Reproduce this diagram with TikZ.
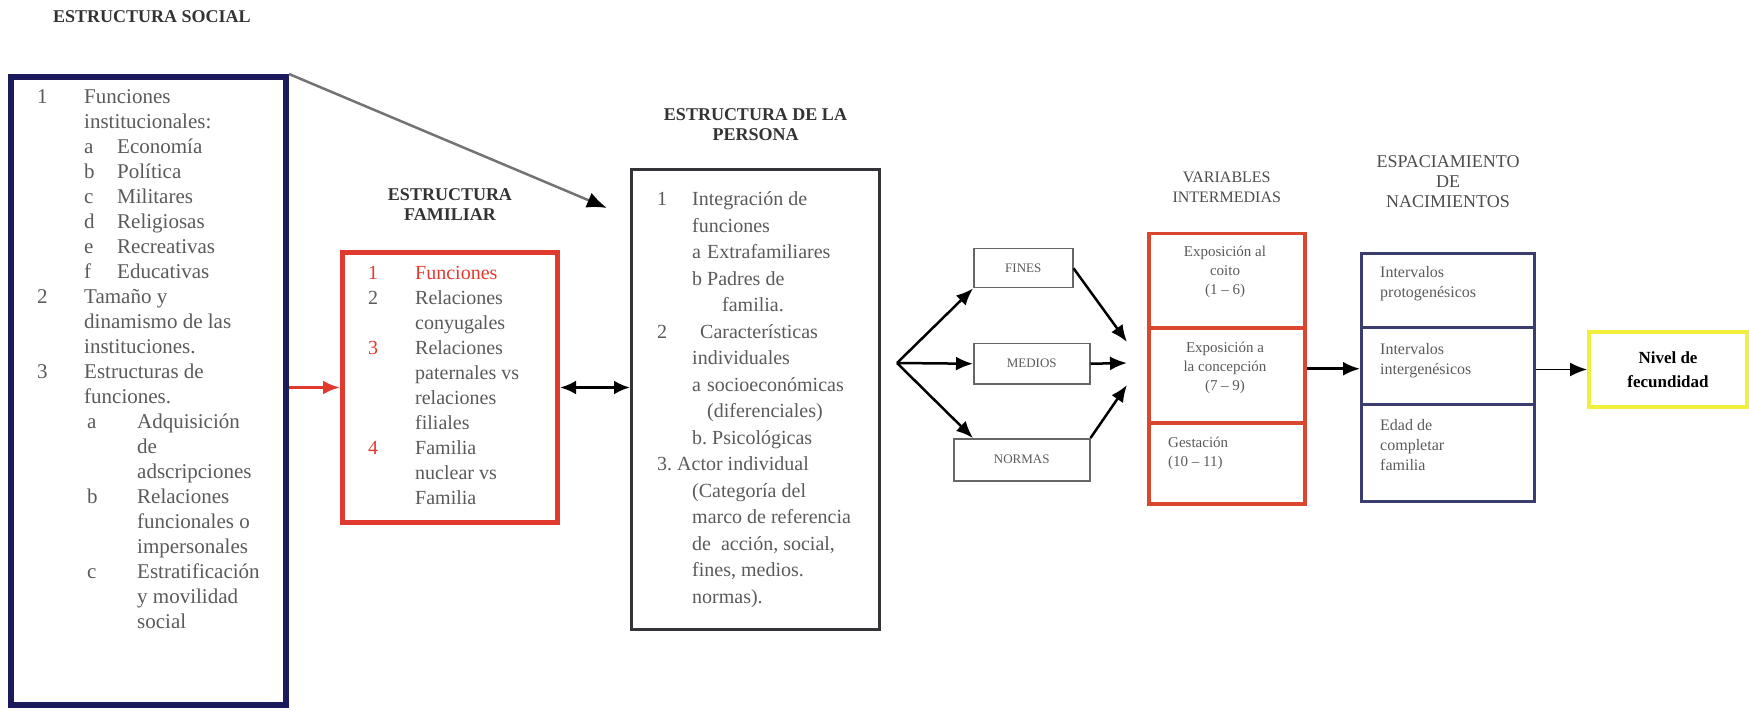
\documentclass[tikz,border=0pt]{standalone}
\usepackage{fontspec}
\setmainfont{Liberation Serif}
\usetikzlibrary{positioning, arrows.meta}

\definecolor{navybox}{HTML}{1B1A5C}
\definecolor{redbox}{HTML}{E03A2E}
\definecolor{persbox}{HTML}{333338}
\definecolor{varbox}{HTML}{D9472F}
\definecolor{espbox}{HTML}{3B3D6E}
\definecolor{yelbox}{HTML}{F0F03A}
\definecolor{txtgray}{HTML}{5A5A5A}

\newcommand{\fs}[2]{\fontsize{#1}{#2}\selectfont}

\begin{document}
\begin{tikzpicture}[x=1pt, y=-1pt,
    box/.style={draw, anchor=north west, inner sep=0pt},
    hdr/.style={font=\fs{18}{20}\bfseries, text=black!80, align=center, inner sep=0pt},
    hdrlight/.style={font=\fs{16}{20}, text=black!70, align=center, inner sep=0pt},
    txt/.style={inner sep=0pt, text=txtgray, anchor=north west},
    cell/.style={inner sep=0pt, text=txtgray, font=\fs{15}{19}},
    blkarr/.style={draw=black, line width=2.5pt, -{Latex[length=17pt,width=14pt]}},
    redarr/.style={draw=redbox, line width=3pt, -{Latex[length=17pt,width=14pt]}},
    grayarr/.style={draw=black!55, line width=2.5pt, -{Latex[length=20pt,width=16pt,color=black]}},
    dblarr/.style={draw=black, line width=3pt, {Latex[length=16pt,width=14pt]}-{Latex[length=16pt,width=14pt]}}]

    \useasboundingbox (0,0) rectangle (1749,711);

    % boxes
    \node[box, draw=navybox, line width=6pt, minimum width=275pt, minimum height=628pt] (social) at (8,74) {};
    \node[box, draw=redbox, line width=5pt, minimum width=215pt, minimum height=270pt] (family) at (340,250) {};
    \node[box, draw=persbox, line width=3pt, minimum width=248pt, minimum height=460pt] (person) at (630,168) {};
    \node[box, draw=black!60, line width=1.5pt, minimum width=99pt, minimum height=39pt, text=txtgray, font=\fs{13}{15}] (fines) at (973,248) {FINES};
    \node[box, draw=black!60, line width=1.5pt, minimum width=116pt, minimum height=40pt, text=txtgray, font=\fs{13}{15}] (medios) at (973,343) {MEDIOS};
    \node[box, draw=black!60, line width=1.5pt, minimum width=136pt, minimum height=42pt, text=txtgray, font=\fs{13}{15}] (normas) at (953,438) {NORMAS};
    \node[box, draw=varbox, line width=3.5pt, minimum width=156pt, minimum height=270pt] (vars) at (1147,232) {};
    \node[box, draw=espbox, line width=3pt, minimum width=173pt, minimum height=248pt] (esp) at (1360,252) {};
    \node[box, draw=yelbox, line width=4pt, minimum width=158pt, minimum height=75pt, align=center, font=\fs{17}{24}\bfseries] (nivel) at (1587,330) {Nivel de\\fecundidad};

    \draw[varbox, line width=3.5pt] (vars.west |- 0,328) -- (vars.east |- 0,328);
    \draw[varbox, line width=3.5pt] (vars.west |- 0,423) -- (vars.east |- 0,423);
    \draw[espbox, line width=3pt] (esp.west |- 0,328) -- (esp.east |- 0,328);
    \draw[espbox, line width=3pt] (esp.west |- 0,404) -- (esp.east |- 0,404);

    % titles
    \node[hdr] (socialtitle) at (152,17) {ESTRUCTURA SOCIAL};
    \node[hdr, above=29pt of family] (famtitle) {ESTRUCTURA\\FAMILIAR};
    \node[hdr, above=27pt of person] (perstitle) {ESTRUCTURA DE LA\\PERSONA};
    \node[hdrlight, above=29pt of vars] (vartitle) {VARIABLES\\INTERMEDIAS};
    \node[hdrlight, font=\fs{18}{20}, above=44pt of esp] (esptitle) {ESPACIAMIENTO\\DE\\NACIMIENTOS};

    % texts
    \node[txt] (socialtxt) at (37,86) {\fs{21}{25}%
        \begin{tabular}{@{}p{47pt}@{}l@{}}
        1 & Funciones\\
          & institucionales:\\
          & \makebox[33pt][l]{a}Economía\\
          & \makebox[33pt][l]{b}Política\\
          & \makebox[33pt][l]{c}Militares\\
          & \makebox[33pt][l]{d}Religiosas\\
          & \makebox[33pt][l]{e}Recreativas\\
          & \makebox[33pt][l]{f}Educativas\\
        2 & Tamaño y\\
          & dinamismo de las\\
          & instituciones.\\
        3 & Estructuras de\\
          & funciones.\\
          & \hspace{3pt}\makebox[50pt][l]{a}Adquisición\\
          & \hspace{53pt}de\\
          & \hspace{53pt}adscripciones\\
          & \hspace{3pt}\makebox[50pt][l]{b}Relaciones\\
          & \hspace{53pt}funcionales o\\
          & \hspace{53pt}impersonales\\
          & \hspace{3pt}\makebox[50pt][l]{c}Estratificación\\
          & \hspace{53pt}y movilidad\\
          & \hspace{53pt}social
        \end{tabular}};

    \node[txt] (famtxt) at (368,262) {\fs{20}{25}%
        \begin{tabular}{@{}p{47pt}@{}l@{}}
        \textcolor{redbox}{1} & \textcolor{redbox}{Funciones}\\
        2 & Relaciones\\
          & conyugales\\
        \textcolor{redbox}{3} & Relaciones\\
          & paternales vs\\
          & relaciones\\
          & filiales\\
        \textcolor{redbox}{4} & Familia\\
          & nuclear vs\\
          & Familia
        \end{tabular}};

    \node[txt] (perstxt) at (657,187) {\fs{20}{26.5}%
        \begin{tabular}{@{}p{35pt}@{}p{15pt}@{}l@{}}
        1 & \multicolumn{2}{@{}l@{}}{Integración de}\\
          & \multicolumn{2}{@{}l@{}}{funciones}\\
          & a & Extrafamiliares\\
          & b & Padres de\\
          &   & \hspace{15pt}familia.\\
        2 & \multicolumn{2}{@{}l@{}}{\hspace{8pt}Características}\\
          & \multicolumn{2}{@{}l@{}}{individuales}\\
          & a & socioeconómicas\\
          &   & (diferenciales)\\
          & \multicolumn{2}{@{}l@{}}{b.\ Psicológicas}\\
        \multicolumn{3}{@{}l@{}}{3.\ Actor individual}\\
          & \multicolumn{2}{@{}l@{}}{(Categoría del}\\
          & \multicolumn{2}{@{}l@{}}{marco de referencia}\\
          & \multicolumn{2}{@{}l@{}}{de\ \ acción, social,}\\
          & \multicolumn{2}{@{}l@{}}{fines, medios.}\\
          & \multicolumn{2}{@{}l@{}}{normas).}
        \end{tabular}};

    \node[cell, align=center] (coito) at (1225,272) {Exposición al\\coito\\(1 – 6)};
    \node[cell, align=center] (concep) at (1225,368) {Exposición a\\la concepción\\(7 – 9)};
    \node[cell, align=left, anchor=north west] (gest) at (1168,437) {Gestación\\(10 – 11)};

    \node[cell, font=\fs{16}{20}, align=left, anchor=north west] (proto) at (1380,266) {Intervalos\\protogenésicos};
    \node[cell, font=\fs{16}{20}, align=left, anchor=north west] (inter) at (1380,343) {Intervalos\\intergenésicos};
    \node[cell, font=\fs{16}{20}, align=left, anchor=north west] (edad) at (1380,419) {Edad de\\completar\\familia};

    % connectors
    \coordinate (perstip) at (607,208);
    \coordinate (fan) at (897,363);
    \coordinate (in1) at (1127,342);
    \coordinate (in2) at (1127,363);
    \coordinate (in3) at (1127,385);

    \path (social.north east) edge[grayarr] (perstip);
    \path (social.east |- family.west) edge[redarr] (family.west);
    \path (family.east) edge[dblarr] (family.east -| person.west);
    \path (fan) edge[blkarr] (fines.south west)
          (fan) edge[blkarr] (medios.west)
          (fan) edge[blkarr] ([xshift=20pt]normas.north west);
    \path (fines.east) edge[blkarr] (in1);
    \path (medios.east) edge[blkarr] (in2);
    \path (normas.north east) edge[blkarr] (in3);
    \path (vars.east) edge[blkarr] (vars.east -| esp.west);
    \path (esp.east |- nivel.west) edge[blkarr, line width=1.5pt] (nivel.west);
\end{tikzpicture}
\end{document}
